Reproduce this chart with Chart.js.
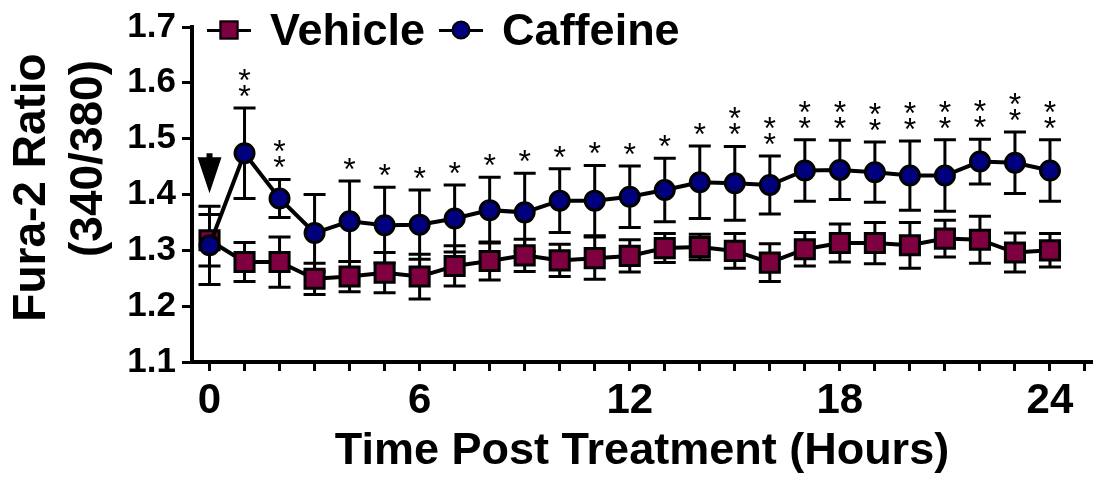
<!DOCTYPE html>
<html lang="en">
<head>
  <meta charset="UTF-8" />
  <title>Fura-2 Ratio</title>
  <script src="https://cdn.jsdelivr.net/npm/chart.js"></script>
  <style>
    body {
      margin: 0;
      background: #fff;
      font-family: 'Liberation Sans', Arial, sans-serif;
    }
    .wrap {
      position: relative;
      width: 1094px;
      height: 483px;
    }
    #legenda {
      position: absolute;
      left: 207px;
      top: 8px;
      display: flex;
      font: bold 45px 'Liberation Sans', Arial, sans-serif;
      line-height: 44px;
      color: #000;
    }
    #legenda .item {
      display: flex;
      align-items: center;
      margin-right: 14px;
    }
    #legenda .key {
      position: relative;
      width: 44px;
      height: 44px;
      margin-right: 19px;
    }
    #legenda .key::before {
      content: '';
      position: absolute;
      left: 0;
      right: 0;
      top: 21px;
      height: 3px;
      background: #000;
    }
    #legenda .key i {
      position: absolute;
      left: 50%;
      top: 50%;
      width: 15px;
      height: 15px;
      transform: translate(-50%, -50%);
      border: 2px solid #000;
    }
  </style>
</head>
<body>
  <div class="wrap">
    <canvas id="grafico" width="1094" height="483"></canvas>
    <div id="legenda"></div>
  </div>

  <script>
    const horas = [0, 1, 2, 3, 4, 5, 6, 7, 8, 9, 10, 11, 12, 13, 14, 15, 16, 17, 18, 19, 20, 21, 22, 23, 24];
    const rotulosX = [0, 6, 12, 18, 24];

    const vehicle = [1.318, 1.279, 1.279, 1.249, 1.253, 1.260, 1.253, 1.272, 1.281, 1.291, 1.282, 1.286, 1.290,
                     1.304, 1.306, 1.299, 1.278, 1.302, 1.313, 1.313, 1.309, 1.321, 1.319, 1.296, 1.300];
    const vehicleErro = [0.046, 0.035, 0.045, 0.028, 0.027, 0.036, 0.040, 0.036, 0.034, 0.029, 0.029, 0.038, 0.029,
                         0.026, 0.023, 0.031, 0.034, 0.030, 0.034, 0.037, 0.041, 0.033, 0.042, 0.035, 0.030];

    const caffeine = [1.309, 1.474, 1.393, 1.331, 1.352, 1.345, 1.346, 1.357, 1.372, 1.368, 1.389, 1.389, 1.396,
                      1.408, 1.422, 1.420, 1.417, 1.443, 1.444, 1.440, 1.434, 1.434, 1.459, 1.457, 1.443];
    const caffeineErro = [0.070, 0.081, 0.034, 0.069, 0.072, 0.068, 0.062, 0.060, 0.059, 0.070, 0.057, 0.063, 0.055,
                          0.057, 0.065, 0.066, 0.052, 0.055, 0.053, 0.054, 0.062, 0.064, 0.040, 0.055, 0.055];

    // número de asteriscos acima de cada ponto de caffeine
    const estrelas = [0, 2, 2, 0, 1, 1, 1, 1, 1, 1, 1, 1, 1, 1, 1, 2, 2, 2, 2, 2, 2, 2, 2, 2, 2];
    const marcoTratamento = 0;

    const tituloY = ["Fura-2 Ratio", "(340/380)"];

    const corVehicle = "#7f0040";
    const corCaffeine = "#00007f";
    const fonte = "'Liberation Sans', Arial, sans-serif";

    // legenda em HTML
    const legenda = document.getElementById("legenda");
    [["Vehicle", corVehicle, "0"], ["Caffeine", corCaffeine, "50%"]].forEach(([nome, cor, raio]) => {
      const item = document.createElement("div");
      item.className = "item";
      item.innerHTML = `<span class="key"><i style="background:${cor};border-radius:${raio}"></i></span><span>${nome}</span>`;
      legenda.appendChild(item);
    });

    const pares = (ys) => horas.map((h, i) => ({ x: h, y: ys[i] }));

    // barras de erro, desenhadas antes das séries
    const barrasErro = {
      id: "barrasErro",
      beforeDatasetsDraw(chart) {
        const { ctx, scales: { x, y } } = chart;
        ctx.save();
        ctx.strokeStyle = "#000";
        ctx.lineWidth = 3;
        [[vehicle, vehicleErro], [caffeine, caffeineErro]].forEach(([serie, erro]) => {
          serie.forEach((v, i) => {
            const px = x.getPixelForValue(horas[i]);
            const topo = y.getPixelForValue(v + erro[i]);
            const base = y.getPixelForValue(v - erro[i]);
            ctx.beginPath();
            ctx.moveTo(px, topo);
            ctx.lineTo(px, base);
            ctx.moveTo(px - 11, topo);
            ctx.lineTo(px + 11, topo);
            ctx.moveTo(px - 11, base);
            ctx.lineTo(px + 11, base);
            ctx.stroke();
          });
        });
        ctx.restore();
      }
    };

    // asteriscos, seta do tratamento e título do eixo y
    const anotacoes = {
      id: "anotacoes",
      afterDatasetsDraw(chart) {
        const { ctx, chartArea, scales: { x, y } } = chart;
        ctx.save();
        ctx.fillStyle = "#000";
        ctx.font = "32px " + fonte;
        ctx.textAlign = "center";
        ctx.textBaseline = "alphabetic";
        estrelas.forEach((n, i) => {
          const px = x.getPixelForValue(horas[i]);
          const topo = y.getPixelForValue(caffeine[i] + caffeineErro[i]);
          for (let k = 0; k < n; k++) {
            ctx.fillText("*", px, topo - 1 - 16 * k);
          }
        });

        const i0 = horas.indexOf(marcoTratamento);
        const ax = x.getPixelForValue(marcoTratamento);
        const ponta = y.getPixelForValue(caffeine[i0] + caffeineErro[i0]) - 13;
        ctx.beginPath();
        ctx.moveTo(ax, ponta);
        ctx.lineTo(ax - 12, ponta - 36);
        ctx.lineTo(ax - 3, ponta - 36);
        ctx.lineTo(ax - 3, ponta - 40);
        ctx.lineTo(ax + 3, ponta - 40);
        ctx.lineTo(ax + 3, ponta - 36);
        ctx.lineTo(ax + 12, ponta - 36);
        ctx.closePath();
        ctx.fill();

        // título do eixo y em duas linhas
        const meio = (chartArea.top + chartArea.bottom) / 2;
        ctx.font = "bold 46px " + fonte;
        ctx.textBaseline = "middle";
        [[tituloY[0], 32, -7], [tituloY[1], 89, -36]].forEach(([texto, cx, dy]) => {
          ctx.save();
          ctx.translate(cx, meio + dy);
          ctx.rotate(-Math.PI / 2);
          ctx.fillText(texto, 0, 0);
          ctx.restore();
        });
        ctx.restore();
      }
    };

    new Chart(document.getElementById("grafico"), {
      type: "line",
      data: {
        datasets: [
          {
            label: "Vehicle",
            data: pares(vehicle),
            order: 1,
            borderColor: "#000",
            borderWidth: 4,
            pointStyle: "rect",
            pointRadius: 13.5,
            pointBackgroundColor: corVehicle,
            pointBorderColor: "#000",
            pointBorderWidth: 3
          },
          {
            label: "Caffeine",
            data: pares(caffeine),
            order: 0,
            borderColor: "#000",
            borderWidth: 4,
            pointStyle: "circle",
            pointRadius: 9.5,
            pointBackgroundColor: corCaffeine,
            pointBorderColor: "#000",
            pointBorderWidth: 3
          }
        ]
      },
      options: {
        responsive: false,
        animation: false,
        layout: { autoPadding: false, padding: { top: 24, right: 2, left: 0, bottom: 0 } },
        plugins: {
          legend: { display: false },
          tooltip: { enabled: false }
        },
        scales: {
          x: {
            type: "linear",
            min: -0.5,
            max: 25.2,
            afterBuildTicks: s => { s.ticks = horas.concat([25]).map(v => ({ value: v })); },
            afterFit: s => { s.height = 121; },
            ticks: {
              autoSkip: false,
              maxRotation: 0,
              padding: 5,
              color: "#000",
              font: { family: fonte, size: 42, weight: "bold" },
              callback: v => rotulosX.includes(v) ? String(v) : ""
            },
            grid: {
              drawOnChartArea: false,
              drawTicks: true,
              tickLength: 9,
              tickWidth: 3,
              tickColor: "#000"
            },
            border: { display: true, color: "#000", width: 4 },
            title: {
              display: true,
              text: "Time Post Treatment (Hours)",
              color: "#000",
              font: { family: fonte, size: 45, weight: "bold" },
              padding: { top: 0, bottom: 4 }
            }
          },
          y: {
            min: 1.1,
            max: 1.7,
            afterFit: s => { s.width = 192; },
            ticks: {
              stepSize: 0.1,
              padding: 6,
              color: "#000",
              font: { family: fonte, size: 35, weight: "bold" },
              callback: v => v.toFixed(1)
            },
            grid: {
              drawOnChartArea: false,
              drawTicks: true,
              tickLength: 10,
              tickWidth: 3,
              tickColor: "#000"
            },
            border: { display: true, color: "#000", width: 4 },
            title: { display: false }
          }
        }
      },
      plugins: [barrasErro, anotacoes]
    });
  </script>
</body>
</html>
